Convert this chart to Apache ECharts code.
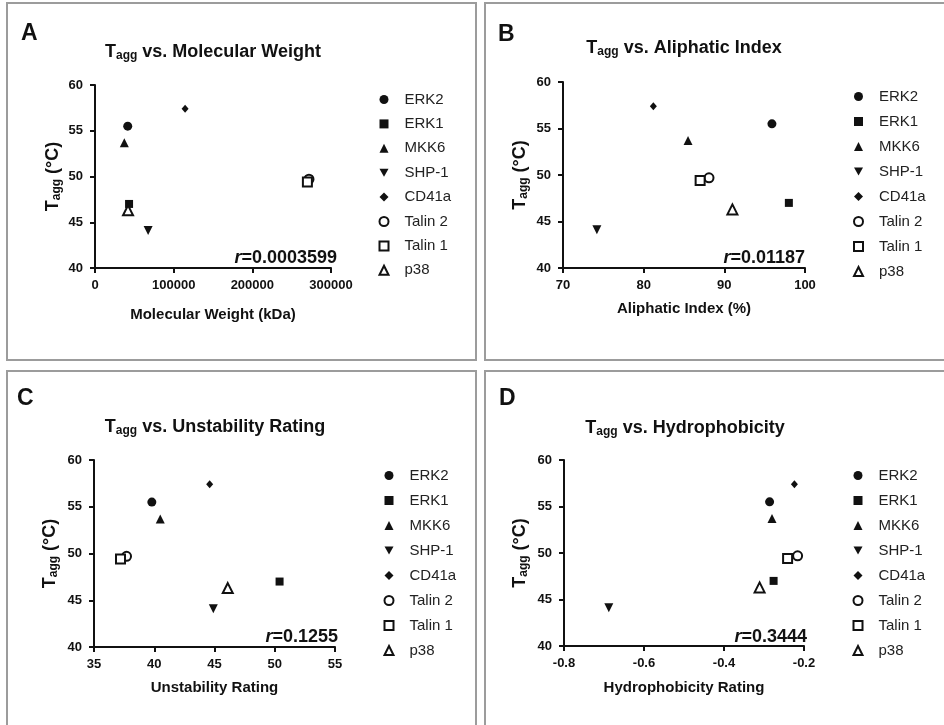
<!DOCTYPE html>
<html>
<head>
<meta charset="utf-8">
<script src="https://cdn.jsdelivr.net/npm/echarts@6/dist/echarts.min.js"></script>
<style>
  html, body { margin: 0; padding: 0; background: #fff; }
  #chart { width: 944px; height: 725px; }
</style>
</head>
<body>
<div id="chart"></div>
<script>
// proteins and their aggregation temperatures (°C)
const proteins = ['ERK2', 'ERK1', 'MKK6', 'SHP-1', 'CD41a', 'Talin 2', 'Talin 1', 'p38'];
const taggValues = [55.5, 47.0, 53.7, 44.1, 57.4, 49.7, 49.4, 46.3];

// x values per panel
const molecularWeight = [41600, 43300, 37300, 67500, 114500, 272000, 270000, 42000];
const aliphaticIndex = [95.9, 98.0, 85.5, 74.2, 81.2, 88.1, 87.0, 91.0];
const unstabilityRating = [39.8, 50.4, 40.5, 44.9, 44.6, 37.7, 37.2, 46.1];
const hydrophobicity = [-0.286, -0.276, -0.280, -0.688, -0.224, -0.216, -0.241, -0.311];

// correlation labels
const rValues = ['0.0003599', '0.01187', '0.1255', '0.3444'];
const panelLetters = ['A', 'B', 'C', 'D'];
const panelTitles = ['Molecular Weight', 'Aliphatic Index', 'Unstability Rating', 'Hydrophobicity'];
const xAxisNames = ['Molecular Weight (kDa)', 'Aliphatic Index (%)', 'Unstability Rating', 'Hydrophobicity Rating'];
const xValueSets = [molecularWeight, aliphaticIndex, unstabilityRating, hydrophobicity];

// axis ranges
const xRanges = [
  { min: 0, max: 300000, interval: 100000 },
  { min: 70, max: 100, interval: 10 },
  { min: 35, max: 55, interval: 5 },
  { min: -0.8, max: -0.2, interval: 0.2 }
];
const yRange = { min: 40, max: 60, interval: 5 };

// marker look per protein
const symbols = ['circle', 'rect', 'triangle', 'path://M0,0L10,0L5,9Z', 'diamond', 'emptyCircle', 'emptyRect', 'emptyTriangle'];
const symbolSizes = [9, 8, 9, 9, [7, 8], 9, 9, 10];

// layout of the four panels
const layout = [
  { grid: { left: 95, top: 85, width: 236, height: 183 }, letter: [21, 34], title: [213, 52], r: [337, 258], legend: [378.5, 92, 9.4], nameGapX: 39, nameGapY: 32, border: [7, 3] },
  { grid: { left: 563, top: 82, width: 242, height: 186 }, letter: [498, 35], title: [684, 48], r: [805, 258], legend: [853, 89, 10], nameGapX: 33, nameGapY: 33, border: [485, 3] },
  { grid: { left: 94, top: 460, width: 241, height: 187 }, letter: [17, 399], title: [215, 427], r: [338, 637], legend: [383.5, 468, 10], nameGapX: 33, nameGapY: 34, border: [7, 371] },
  { grid: { left: 564, top: 460, width: 240, height: 186 }, letter: [499, 399], title: [685, 428], r: [807, 637], legend: [852.5, 468, 10], nameGapX: 34, nameGapY: 34, border: [485, 371] }
];

const FONT = '"Liberation Sans", Arial, sans-serif';
const INK = '#111';

const chart = echarts.init(document.getElementById('chart'));

const grids = [];
const xAxes = [];
const yAxes = [];
const legends = [];
const series = [];
const graphics = [];

const axisCommon = {
  axisLine: { show: true, lineStyle: { color: INK, width: 2 } },
  axisTick: { show: true, length: 5, lineStyle: { color: INK, width: 2 } },
  splitLine: { show: false },
  axisLabel: { color: INK, fontSize: 13, fontWeight: 'bold', fontFamily: FONT }
};

layout.forEach((p, i) => {
  grids.push(Object.assign({ containLabel: false, outerBoundsMode: 'none' }, p.grid));

  xAxes.push(Object.assign({}, axisCommon, {
    type: 'value',
    gridIndex: i,
    min: xRanges[i].min,
    max: xRanges[i].max,
    interval: xRanges[i].interval,
    name: xAxisNames[i],
    nameLocation: 'middle',
    nameGap: p.nameGapX,
    nameTextStyle: { color: INK, fontSize: 15, fontWeight: 'bold', fontFamily: FONT },
    axisLabel: Object.assign({}, axisCommon.axisLabel, {
      margin: 11,
      formatter: i === 3 ? (v) => v.toFixed(1) : (v) => String(Math.round(v))
    })
  }));

  yAxes.push(Object.assign({}, axisCommon, {
    type: 'value',
    gridIndex: i,
    min: yRange.min,
    max: yRange.max,
    interval: yRange.interval,
    name: '{t|T}{s|agg}{t| (°C)}',
    nameLocation: 'middle',
    nameRotate: 90,
    nameGap: p.nameGapY,
    nameTextStyle: {
      color: INK,
      fontFamily: FONT,
      rich: {
        t: { fontSize: 18, fontWeight: 'bold', fontFamily: FONT, color: INK, lineHeight: 20 },
        s: { fontSize: 12, fontWeight: 'bold', fontFamily: FONT, color: INK, lineHeight: 14, padding: [8, 0, 0, 0] }
      }
    },
    axisLabel: Object.assign({}, axisCommon.axisLabel, { margin: 12 })
  }));

  legends.push({
    orient: 'vertical',
    left: p.legend[0],
    top: p.legend[1],
    itemGap: p.legend[2],
    itemWidth: 9,
    itemHeight: 9,
    symbolKeepAspect: true,
    padding: 0,
    data: proteins,
    itemStyle: { opacity: 1 },
    textStyle: { color: '#222', fontSize: 15, fontFamily: FONT, padding: [0, 0, 0, 11] }
  });

  proteins.forEach((name, k) => {
    const empty = symbols[k].indexOf('empty') === 0;
    series.push({
      type: 'scatter',
      name: name,
      xAxisIndex: i,
      yAxisIndex: i,
      symbol: symbols[k],
      symbolSize: symbolSizes[k],
      itemStyle: empty
        ? { color: INK, borderColor: INK, borderWidth: 1.6, opacity: 1 }
        : { color: INK, borderWidth: 0, opacity: 1 },
      emphasis: { disabled: true },
      data: [[xValueSets[i][k], taggValues[k]]]
    });
  });

  // panel frame
  graphics.push({
    type: 'rect',
    shape: { x: p.border[0], y: p.border[1], width: 469, height: 357 + (i > 1 ? 13 : 0) },
    style: { fill: 'none', stroke: '#9c9c9c', lineWidth: 2 },
    silent: true
  });

  // panel letter
  graphics.push({
    type: 'text',
    x: p.letter[0],
    y: p.letter[1],
    style: {
      text: panelLetters[i],
      font: 'bold 23px ' + FONT,
      fill: INK,
      align: 'left',
      verticalAlign: 'middle'
    }
  });

  // panel title with subscript
  graphics.push({
    type: 'text',
    x: p.title[0],
    y: p.title[1],
    style: {
      text: '{t|T}{s|agg}{t| vs. ' + panelTitles[i] + '}',
      align: 'center',
      verticalAlign: 'middle',
      rich: {
        t: { fontSize: 18, fontWeight: 'bold', fontFamily: FONT, fill: INK, lineHeight: 20 },
        s: { fontSize: 12, fontWeight: 'bold', fontFamily: FONT, fill: INK, lineHeight: 14, padding: [8, 0, 0, 0] }
      }
    }
  });

  // correlation coefficient
  graphics.push({
    type: 'text',
    x: p.r[0],
    y: p.r[1],
    style: {
      text: '{i|r}{b|=' + rValues[i] + '}',
      align: 'right',
      verticalAlign: 'middle',
      rich: {
        i: { fontSize: 18, fontStyle: 'italic', fontWeight: 'bold', fontFamily: FONT, fill: INK },
        b: { fontSize: 18, fontWeight: 'bold', fontFamily: FONT, fill: INK }
      }
    }
  });
});

const option = {
  backgroundColor: '#fff',
  animation: false,
  grid: grids,
  xAxis: xAxes,
  yAxis: yAxes,
  legend: legends,
  graphic: graphics,
  series: series
};

chart.setOption(option);
</script>
</body>
</html>
